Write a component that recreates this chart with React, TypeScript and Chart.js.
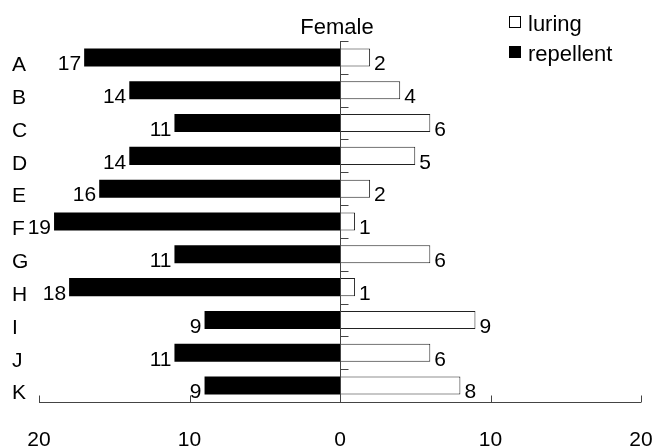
import { useEffect, useRef } from "react";
import { Chart, registerables } from "chart.js";

Chart.register(...registerables);

const categories = ["A", "B", "C", "D", "E", "F", "G", "H", "I", "J", "K"];
const repellent = [17, 14, 11, 14, 16, 19, 11, 18, 9, 11, 9];
const luring = [2, 4, 6, 5, 2, 1, 6, 1, 9, 6, 8];
const xTicks = [-20, -10, 0, 10, 20];
const titleText = "Female";
const legendLabels = ["luring", "repellent"];

const FAMILY = "'Liberation Sans', Arial, Helvetica, sans-serif";

const decorPlugin = {
  id: "decor",
  afterDatasetsDraw(chart: any) {
    const { ctx, chartArea: ca, scales } = chart;
    const x = scales.x;
    const y = scales.y;
    const x0 = Math.round(x.getPixelForValue(0)) + 0.5;
    ctx.save();
    ctx.strokeStyle = "#444";
    ctx.lineWidth = 1;
    // zero line
    ctx.beginPath();
    ctx.moveTo(x0, ca.top);
    ctx.lineTo(x0, ca.bottom);
    ctx.stroke();
    // category boundary ticks on zero line
    for (let i = 0; i < categories.length; i++) {
      const yy = Math.round(y.getPixelForValue(i - 0.5)) + 0.5;
      ctx.beginPath();
      ctx.moveTo(x0, yy);
      ctx.lineTo(x0 + 8, yy);
      ctx.stroke();
    }
    // bottom axis line
    const yb = Math.round(ca.bottom) + 0.5;
    ctx.beginPath();
    ctx.moveTo(x.getPixelForValue(xTicks[0]), yb);
    ctx.lineTo(x.getPixelForValue(xTicks[xTicks.length - 1]), yb);
    ctx.stroke();
    xTicks.forEach((v) => {
      if (v === 0) return;
      const xx = Math.round(x.getPixelForValue(v)) + 0.5;
      ctx.beginPath();
      ctx.moveTo(xx, yb);
      ctx.lineTo(xx, yb - 7);
      ctx.stroke();
    });

    // value labels
    ctx.fillStyle = "#000";
    ctx.font = `21px ${FAMILY}`;
    ctx.textBaseline = "middle";
    const metaR = chart.getDatasetMeta(0);
    metaR.data.forEach((bar: any, i: number) => {
      ctx.textAlign = "right";
      ctx.fillText(String(repellent[i]), bar.x - 3, bar.y + 7);
    });
    const metaL = chart.getDatasetMeta(1);
    metaL.data.forEach((bar: any, i: number) => {
      ctx.textAlign = "left";
      ctx.fillText(String(luring[i]), bar.x + 4, bar.y + 7);
    });

    // title
    ctx.font = `22px ${FAMILY}`;
    ctx.textAlign = "center";
    ctx.textBaseline = "alphabetic";
    ctx.fillText(titleText, x.getPixelForValue(0) - 3, 34);

    // legend
    const ds = chart.data.datasets;
    const rows = [
      { label: legendLabels[0], d: ds[1], base: 31 },
      { label: legendLabels[1], d: ds[0], base: 61 },
    ];
    rows.forEach((r) => {
      const bx = 509.5;
      const by = r.base - 15 + 0.5;
      ctx.fillStyle = r.d.backgroundColor;
      ctx.fillRect(bx, by, 11, 11);
      ctx.strokeStyle = "#000";
      ctx.lineWidth = 1;
      ctx.strokeRect(bx, by, 11, 11);
      ctx.fillStyle = "#000";
      ctx.textAlign = "left";
      ctx.fillText(r.label, 528, r.base);
    });
    ctx.restore();
  },
};

export default function App() {
  const ref = useRef<HTMLCanvasElement | null>(null);
  useEffect(() => {
    if (!ref.current) return;
    const chart = new Chart(ref.current, {
      type: "bar",
      data: {
        labels: categories,
        datasets: [
          {
            label: legendLabels[1],
            data: repellent.map((v) => -v),
            backgroundColor: "#000",
            borderWidth: 0,
            barPercentage: 0.55,
            categoryPercentage: 1,
          },
          {
            label: legendLabels[0],
            data: luring,
            backgroundColor: "#fff",
            borderColor: "#222",
            borderWidth: 1,
            barPercentage: 0.55,
            categoryPercentage: 1,
          },
        ],
      },
      options: {
        indexAxis: "y",
        responsive: true,
        maintainAspectRatio: false,
        animation: false,
        layout: { padding: { left: 12, right: 16, top: 41, bottom: 0 } },
        plugins: {
          legend: { display: false },
          tooltip: { enabled: false },
          title: { display: false },
        },
        scales: {
          x: {
            stacked: true,
            min: -20,
            max: 20,
            afterBuildTicks: (axis: any) => {
              axis.ticks = xTicks.map((v) => ({ value: v }));
            },
            ticks: {
              callback: (v: any) => String(Math.abs(Number(v))),
              font: { family: FAMILY, size: 21 },
              color: "#000",
              padding: 26,
              maxRotation: 0,
              autoSkip: false,
            },
            grid: { display: false, drawTicks: false },
            border: { display: false },
            afterFit: (axis: any) => {
              axis.height = 46;
              axis.paddingLeft = 0;
              axis.paddingRight = 0;
            },
          },
          y: {
            stacked: true,
            ticks: {
              font: { family: FAMILY, size: 21 },
              color: "#000",
              crossAlign: "far",
              labelOffset: 8,
              padding: 0,
            },
            grid: { display: false, drawTicks: false },
            border: { display: false },
            afterFit: (axis: any) => {
              axis.width = 27;
              axis.paddingTop = 0;
              axis.paddingBottom = 0;
            },
          },
        },
      } as any,
      plugins: [decorPlugin],
    });
    return () => chart.destroy();
  }, []);
  return (
    <div style={{ position: "fixed", left: 0, top: 0, width: 657, height: 448, background: "#fff" }}>
      <canvas ref={ref} />
    </div>
  );
}
